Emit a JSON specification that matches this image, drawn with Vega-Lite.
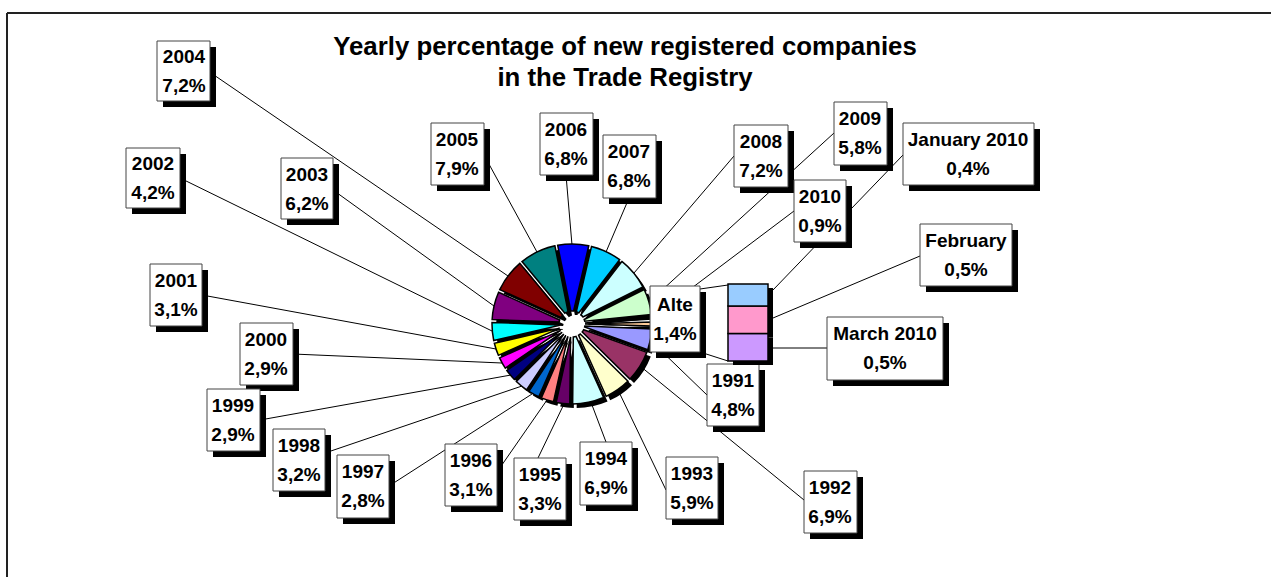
{
  "$schema": "https://vega.github.io/schema/vega-lite/v6.json",
  "width": 1271,
  "height": 579,
  "autosize": {"type": "none"},
  "padding": 0,
  "background": "white",
  "config": {"view": {"stroke": null}},
  "datasets": {
    "slices": [
      {"name": "1991", "pct": 4.8, "ord": 1},
      {"name": "1992", "pct": 6.9, "ord": 2},
      {"name": "1993", "pct": 5.9, "ord": 3},
      {"name": "1994", "pct": 6.9, "ord": 4},
      {"name": "1995", "pct": 3.3, "ord": 5},
      {"name": "1996", "pct": 3.1, "ord": 6},
      {"name": "1997", "pct": 2.8, "ord": 7},
      {"name": "1998", "pct": 3.2, "ord": 8},
      {"name": "1999", "pct": 2.9, "ord": 9},
      {"name": "2000", "pct": 2.9, "ord": 10},
      {"name": "2001", "pct": 3.1, "ord": 11},
      {"name": "2002", "pct": 4.2, "ord": 12},
      {"name": "2003", "pct": 6.2, "ord": 13},
      {"name": "2004", "pct": 7.2, "ord": 14},
      {"name": "2005", "pct": 7.9, "ord": 15},
      {"name": "2006", "pct": 6.8, "ord": 16},
      {"name": "2007", "pct": 6.8, "ord": 17},
      {"name": "2008", "pct": 7.2, "ord": 18},
      {"name": "2009", "pct": 5.8, "ord": 19},
      {"name": "2010", "pct": 0.9, "ord": 20},
      {"name": "Alte", "pct": 1.4, "ord": 21}
    ],
    "months": [
      {"month": "March 2010", "pct": 0.5, "ord": 1},
      {"month": "February", "pct": 0.5, "ord": 2},
      {"month": "January 2010", "pct": 0.4, "ord": 3}
    ],
    "labels": [
      {"text": "2004\n7,2%", "x1": 157, "x2": 210, "y1": 41, "y2": 101, "tx": 184, "ty": 71},
      {"text": "2002\n4,2%", "x1": 126, "x2": 180, "y1": 148, "y2": 208, "tx": 153, "ty": 178},
      {"text": "2003\n6,2%", "x1": 281, "x2": 333, "y1": 158, "y2": 219, "tx": 307, "ty": 189},
      {"text": "2005\n7,9%", "x1": 431, "x2": 484, "y1": 123, "y2": 185, "tx": 457, "ty": 154},
      {"text": "2006\n6,8%", "x1": 540, "x2": 593, "y1": 113, "y2": 175, "tx": 566, "ty": 144},
      {"text": "2007\n6,8%", "x1": 603, "x2": 656, "y1": 135, "y2": 198, "tx": 629, "ty": 166},
      {"text": "2008\n7,2%", "x1": 734, "x2": 788, "y1": 125, "y2": 187, "tx": 761, "ty": 156},
      {"text": "2009\n5,8%", "x1": 834, "x2": 887, "y1": 102, "y2": 165, "tx": 860, "ty": 133},
      {"text": "January 2010\n0,4%", "x1": 903, "x2": 1034, "y1": 123, "y2": 185, "tx": 968, "ty": 154},
      {"text": "2010\n0,9%", "x1": 794, "x2": 846, "y1": 180, "y2": 242, "tx": 820, "ty": 211},
      {"text": "February\n0,5%", "x1": 920, "x2": 1012, "y1": 224, "y2": 286, "tx": 966, "ty": 255},
      {"text": "Alte\n1,4%", "x1": 650, "x2": 700, "y1": 286, "y2": 352, "tx": 675, "ty": 319},
      {"text": "March 2010\n0,5%", "x1": 827, "x2": 943, "y1": 317, "y2": 380, "tx": 885, "ty": 348},
      {"text": "1991\n4,8%", "x1": 707, "x2": 759, "y1": 364, "y2": 426, "tx": 733, "ty": 395},
      {"text": "1992\n6,9%", "x1": 804, "x2": 857, "y1": 471, "y2": 533, "tx": 830, "ty": 502},
      {"text": "1993\n5,9%", "x1": 666, "x2": 718, "y1": 457, "y2": 519, "tx": 692, "ty": 488},
      {"text": "1994\n6,9%", "x1": 580, "x2": 632, "y1": 442, "y2": 505, "tx": 606, "ty": 473},
      {"text": "1995\n3,3%", "x1": 514, "x2": 566, "y1": 458, "y2": 520, "tx": 540, "ty": 489},
      {"text": "1996\n3,1%", "x1": 445, "x2": 497, "y1": 444, "y2": 506, "tx": 471, "ty": 475},
      {"text": "1997\n2,8%", "x1": 337, "x2": 389, "y1": 455, "y2": 518, "tx": 363, "ty": 486},
      {"text": "1998\n3,2%", "x1": 273, "x2": 325, "y1": 429, "y2": 491, "tx": 299, "ty": 460},
      {"text": "1999\n2,9%", "x1": 207, "x2": 260, "y1": 389, "y2": 451, "tx": 233, "ty": 420},
      {"text": "2000\n2,9%", "x1": 240, "x2": 293, "y1": 323, "y2": 385, "tx": 266, "ty": 354},
      {"text": "2001\n3,1%", "x1": 150, "x2": 202, "y1": 264, "y2": 326, "tx": 176, "ty": 295}
    ],
    "leaders": [
      {"a": 211, "b": 73, "c": 508, "d": 276},
      {"a": 180, "b": 178, "c": 492, "d": 331},
      {"a": 333, "b": 190, "c": 494, "d": 306},
      {"a": 202, "b": 295, "c": 496, "d": 349},
      {"a": 293, "b": 354, "c": 502, "d": 363},
      {"a": 260, "b": 420, "c": 511, "d": 375},
      {"a": 325, "b": 453, "c": 522, "d": 386},
      {"a": 389, "b": 486, "c": 532, "d": 394},
      {"a": 497, "b": 472, "c": 547, "d": 400},
      {"a": 538, "b": 458, "c": 564, "d": 404},
      {"a": 606, "b": 442, "c": 592, "d": 405},
      {"a": 666, "b": 490, "c": 618, "d": 390},
      {"a": 804, "b": 500, "c": 640, "d": 366},
      {"a": 707, "b": 395, "c": 650, "d": 340},
      {"a": 484, "b": 155, "c": 537, "d": 252},
      {"a": 566, "b": 175, "c": 572, "d": 245},
      {"a": 629, "b": 198, "c": 606, "d": 252},
      {"a": 734, "b": 156, "c": 634, "d": 273},
      {"a": 834, "b": 133, "c": 649, "d": 302},
      {"a": 794, "b": 211, "c": 652, "d": 318},
      {"a": 903, "b": 155, "c": 773, "d": 290},
      {"a": 920, "b": 256, "c": 773, "d": 318},
      {"a": 827, "b": 348, "c": 773, "d": 348},
      {"a": 700, "b": 289, "c": 728, "d": 285},
      {"a": 700, "b": 352, "c": 728, "d": 361}
    ]
  },
  "layer": [
    {
      "layer": [
        {
          "data": {"values": [{}]},
          "mark": {"type": "rule", "stroke": "#222222", "strokeWidth": 2},
          "encoding": {
            "x": {"datum": 7, "type": "quantitative", "scale": {"domain": [0, 1271], "nice": false, "zero": false}, "axis": null},
            "y": {"datum": 13, "type": "quantitative", "scale": {"domain": [0, 579], "nice": false, "zero": false, "reverse": true}, "axis": null},
            "x2": {"datum": 1280},
            "y2": {"datum": 13}
          }
        },
        {
          "data": {"values": [{}]},
          "mark": {"type": "rule", "stroke": "#222222", "strokeWidth": 2},
          "encoding": {
            "x": {"datum": 7, "type": "quantitative"},
            "y": {"datum": 13, "type": "quantitative"},
            "x2": {"datum": 7},
            "y2": {"datum": 577}
          }
        },
        {
          "data": {"name": "leaders"},
          "mark": {"type": "rule", "stroke": "black", "strokeWidth": 1},
          "encoding": {
            "x": {"field": "a", "type": "quantitative"},
            "y": {"field": "b", "type": "quantitative"},
            "x2": {"field": "c"},
            "y2": {"field": "d"}
          }
        },
        {
          "data": {"name": "slices"},
          "mark": {"type": "arc", "outerRadius": 80, "innerRadius": 13, "padAngle": 0.035, "fill": "black", "xOffset": 4, "yOffset": 4},
          "encoding": {
            "x": {"datum": 572, "type": "quantitative"},
            "y": {"datum": 324, "type": "quantitative"},
            "theta": {"field": "pct", "type": "quantitative", "stack": true, "scale": {"range": [1.6147, 7.8979]}},
            "order": {"field": "ord", "type": "quantitative"}
          }
        },
        {
          "data": {"name": "slices"},
          "mark": {"type": "arc", "outerRadius": 80, "innerRadius": 13, "padAngle": 0.035, "stroke": "black", "strokeWidth": 1.5},
          "encoding": {
            "x": {"datum": 572, "type": "quantitative"},
            "y": {"datum": 324, "type": "quantitative"},
            "theta": {"field": "pct", "type": "quantitative", "stack": true},
            "order": {"field": "ord", "type": "quantitative"},
            "color": {
              "field": "name", "type": "nominal", "legend": null,
              "scale": {
                "domain": ["1991","1992","1993","1994","1995","1996","1997","1998","1999","2000","2001","2002","2003","2004","2005","2006","2007","2008","2009","2010","Alte"],
                "range": ["#9999FF","#993366","#FFFFCC","#CCFFFF","#660066","#FF8080","#0066CC","#CCCCFF","#000080","#FF00FF","#FFFF00","#00FFFF","#800080","#800000","#008080","#0000FF","#00CCFF","#CCFFFF","#CCFFCC","#FFFF99","#FFCC99"]
              }
            }
          }
        },
        {
          "data": {"name": "labels"},
          "mark": {"type": "rect", "fill": "black", "xOffset": 6, "x2Offset": 6, "yOffset": 6, "y2Offset": 6},
          "encoding": {
            "x": {"field": "x1", "type": "quantitative"},
            "x2": {"field": "x2"},
            "y": {"field": "y1", "type": "quantitative"},
            "y2": {"field": "y2"}
          }
        },
        {
          "data": {"name": "labels"},
          "mark": {"type": "rect", "fill": "white", "stroke": "#444444", "strokeWidth": 1},
          "encoding": {
            "x": {"field": "x1", "type": "quantitative"},
            "x2": {"field": "x2"},
            "y": {"field": "y1", "type": "quantitative"},
            "y2": {"field": "y2"}
          }
        },
        {
          "data": {"name": "labels"},
          "mark": {"type": "text", "font": "Liberation Sans", "fontWeight": "bold", "fontSize": 19, "lineBreak": "\n", "lineHeight": 29, "align": "center", "baseline": "middle", "dy": -14, "color": "black"},
          "encoding": {
            "x": {"field": "tx", "type": "quantitative"},
            "y": {"field": "ty", "type": "quantitative"},
            "text": {"field": "text"}
          }
        },
        {
          "data": {"values": [{}]},
          "mark": {"type": "text", "font": "Liberation Sans", "fontWeight": "bold", "fontSize": 25.8, "lineHeight": 31, "align": "center", "baseline": "middle", "color": "black"},
          "encoding": {
            "x": {"datum": 625, "type": "quantitative"},
            "y": {"datum": 47, "type": "quantitative"},
            "text": {"value": ["Yearly percentage of new registered companies", "in the Trade Registry"]}
          }
        }
      ]
    },
    {
      "data": {"name": "months"},
      "transform": [{"stack": "pct", "groupby": [], "sort": [{"field": "ord"}], "as": ["v0", "v1"]}],
      "layer": [
        {
          "mark": {"type": "rect", "fill": "black", "xOffset": 5, "x2Offset": 5, "yOffset": 4, "y2Offset": 4},
          "encoding": {
            "x": {"datum": 728, "type": "quantitative"},
            "x2": {"datum": 768},
            "y": {"field": "v0", "type": "quantitative", "scale": {"domain": [-3.964, 6.563], "nice": false, "zero": false}, "axis": null},
            "y2": {"field": "v1"}
          }
        },
        {
          "mark": {"type": "rect", "stroke": "black", "strokeWidth": 1.5},
          "encoding": {
            "x": {"datum": 728, "type": "quantitative"},
            "x2": {"datum": 768},
            "y": {"field": "v0", "type": "quantitative"},
            "y2": {"field": "v1"},
            "color": {
              "field": "month", "type": "nominal", "legend": null,
              "scale": {"domain": ["January 2010", "February", "March 2010"], "range": ["#99CCFF", "#FF99CC", "#CC99FF"]}
            }
          }
        }
      ]
    }
  ],
  "resolve": {"scale": {"y": "independent", "color": "independent"}}
}
